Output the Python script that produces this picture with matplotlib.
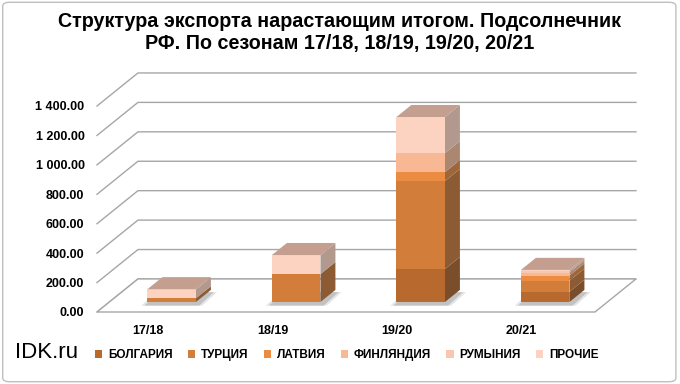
import matplotlib
matplotlib.use('Agg')
import matplotlib.pyplot as plt
from matplotlib.patches import Polygon, FancyBboxPatch
from matplotlib.ticker import FuncFormatter
import numpy as np

plt.rcParams['font.family'] = ['Liberation Sans', 'DejaVu Sans']

# ==============================================================================
# Data
# ==============================================================================
seasons = ['17/18', '18/19', '19/20', '20/21']
countries = ['БОЛГАРИЯ', 'ТУРЦИЯ', 'ЛАТВИЯ', 'ФИНЛЯНДИЯ', 'РУМЫНИЯ', 'ПРОЧИЕ']
bulgaria = [0, 0, 224, 70]
turkey = [25, 190, 598, 75]
latvia = [0, 0, 61, 35]
finland = [0, 0, 129, 20]
romania = [0, 0, 0, 8]
other = [62, 129, 245, 10]
y_ticks = [0, 200, 400, 600, 800, 1000, 1200, 1400]

series = [bulgaria, turkey, latvia, finland, romania, other]
colors = ['#B8692E', '#D27E3A', '#EC8C42', '#F8B894', '#F9C7AE', '#FCD3C0']
top_color = '#C49E8F'
grid_color = '#A6A6A6'

# oblique "3D" geometry (in data units)
wall_dx, wall_dy = 0.329, 224.5     # full floor depth
front_dx, front_dy = 0.10, 68       # bar front face position inside the floor
bar_dx, bar_dy = 0.12, 82           # bar depth
bar_w = 0.39


def shade(c, f):
    rgb = np.array(matplotlib.colors.to_rgb(c))
    grey = rgb.mean()
    rgb = (rgb * 0.8 + grey * 0.2) * f
    return np.clip(rgb, 0, 1)


# ==============================================================================
# Figure
# ==============================================================================
fig = plt.figure(figsize=(6.8, 3.84), dpi=100)
ax = fig.add_axes([97 / 680, 72 / 384, 498 / 680, 206 / 384])
ax.set_xlim(-0.5, 3.5)
ax.set_ylim(0, 1400)
for s in ax.spines.values():
    s.set_visible(False)

# walls: gridlines on the side wall and the back wall
x0, x1 = -0.5, 3.5
for v in y_ticks:
    ax.plot([x0, x0 + wall_dx, x1 + wall_dx], [v, v + wall_dy, v + wall_dy],
            color=grid_color, lw=1, clip_on=False, zorder=1)
# floor
ax.add_patch(Polygon([[x0, 0], [x1, 0], [x1 + wall_dx, wall_dy], [x0 + wall_dx, wall_dy]],
                     closed=True, fc='white', ec=grid_color, lw=1, clip_on=False, zorder=1))

# bars
xpos = np.arange(len(seasons)) + front_dx

# soft shadows on the floor
for x in xpos:
    for k, a in [(0.05, 0.10), (0.025, 0.15)]:
        xl, xr = x - bar_w / 2 - k, x + bar_w / 2 + k
        ax.add_patch(Polygon([[xl, front_dy - 25], [xr, front_dy - 25],
                              [xr + bar_dx, front_dy + bar_dy - 15], [xl + bar_dx, front_dy + bar_dy - 15]],
                             closed=True, fc='black', alpha=a, ec='none', zorder=2, clip_on=False))

handles = []
bottom = np.zeros(len(seasons))
for vals, col, name in zip(series, colors, countries):
    vals = np.array(vals, dtype=float)
    b = ax.bar(xpos, vals, width=bar_w, bottom=bottom + front_dy, color=col,
               label=name, zorder=3, clip_on=False)
    handles.append(b)
    for x, v, bt in zip(xpos, vals, bottom):
        if v <= 0:
            continue
        xr = x + bar_w / 2
        yb = bt + front_dy
        ax.add_patch(Polygon([[xr, yb], [xr + bar_dx, yb + bar_dy],
                              [xr + bar_dx, yb + v + bar_dy], [xr, yb + v]],
                             closed=True, fc=shade(col, 0.72), ec='none',
                             zorder=2.5, clip_on=False))
    bottom = bottom + vals

# top faces
for x, t in zip(xpos, bottom):
    xl, xr = x - bar_w / 2, x + bar_w / 2
    yt = t + front_dy
    ax.add_patch(Polygon([[xl, yt], [xr, yt], [xr + bar_dx, yt + bar_dy], [xl + bar_dx, yt + bar_dy]],
                         closed=True, fc=top_color, ec='none', zorder=3.5, clip_on=False))

# axes ticks
ax.set_yticks(y_ticks)
ax.yaxis.set_major_formatter(FuncFormatter(lambda v, p: '{:,.2f}'.format(v).replace(',', ' ')))
ax.set_xticks(np.arange(len(seasons)) - 0.09)
ax.set_xticklabels(seasons)
ax.tick_params(axis='y', length=0, pad=9, labelsize=9)
ax.tick_params(axis='x', length=0, pad=9, labelsize=9)
for lab in ax.get_xticklabels() + ax.get_yticklabels():
    lab.set_fontweight('bold')

# title
fig.text(0.5, 1 - 12 / 384, 'Структура экспорта нарастающим итогом. Подсолнечник\n'
         'РФ. По сезонам 17/18, 18/19, 19/20, 20/21',
         ha='center', va='top', fontsize=14.2, fontweight='bold', linespacing=1.22)

# legend
fig.legend(handles, countries, loc='center', bbox_to_anchor=(0.51, 1 - 355 / 384),
           ncol=6, frameon=False, prop={'weight': 'bold', 'size': 8.5},
           handlelength=0.6, handleheight=0.6, columnspacing=1.3, handletextpad=0.5)

fig.text(15 / 680, 1 - 353 / 384, 'IDK.ru', ha='left', va='center', fontsize=16)

# chart border
fig.patches.append(FancyBboxPatch((0.004, 0.006), 0.99, 0.988, boxstyle='round,pad=0,rounding_size=0.01',
                                  transform=fig.transFigure, fc='none', ec='#BFBFBF', lw=1))

plt.savefig('out.png', dpi=100)
